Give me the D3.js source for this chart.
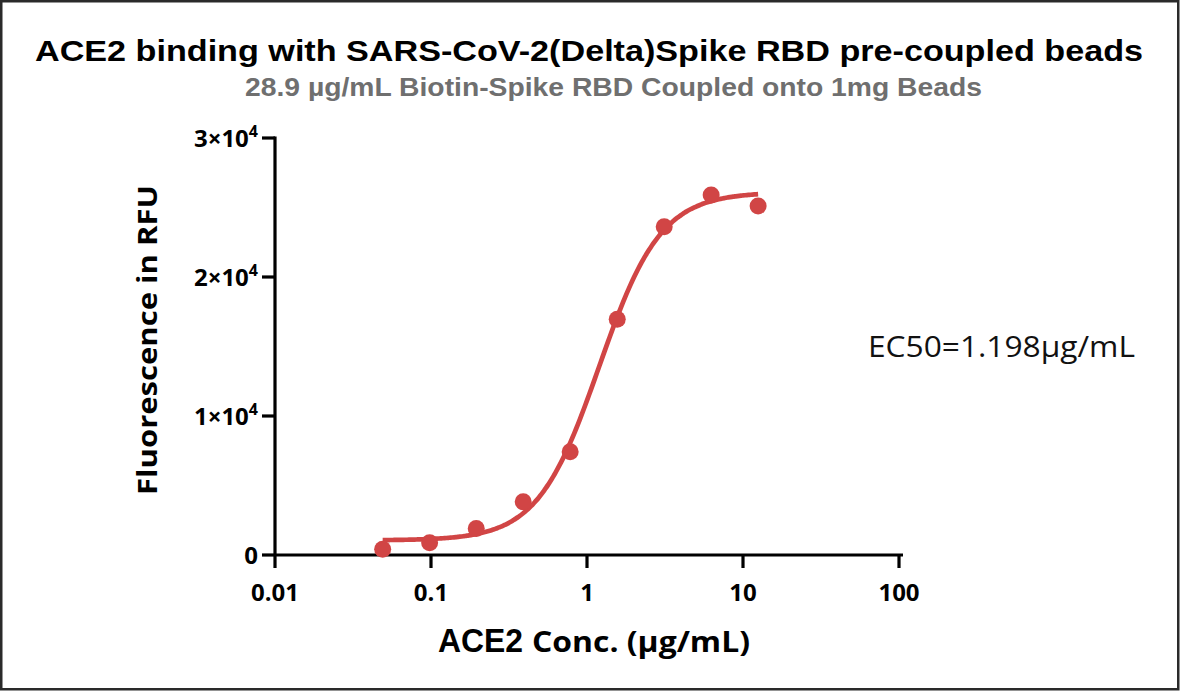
<!DOCTYPE html>
<html><head><meta charset="utf-8">
<script src="https://cdn.jsdelivr.net/npm/d3@7"></script>
<style>body{margin:0;background:#fff}svg{display:block}</style>
</head><body>
<svg id="c" width="1180" height="691"></svg>
<script>
// Data
const concentrations = [0.049, 0.098, 0.195, 0.39, 0.78, 1.5625, 3.125, 6.25, 12.5];
const fluorescence = [410, 885, 1900, 3830, 7430, 16960, 23620, 25900, 25110];
// 4PL fit parameters
const fitBottom = 1050, fitTop = 26100, fitEC50 = 1.198, fitHill = 2.2;
const xTicks = [0.01, 0.1, 1, 10, 100];
const xTickLabels = ["0.01", "0.1", "1", "10", "100"];
const yTicks = [0, 10000, 20000, 30000];
const yTickMantissa = ["0", "1", "2", "3"];

const svg = d3.select("#c");
svg.append("rect").attr("x",1.25).attr("y",1.25).attr("width",1177).attr("height",688)
  .attr("fill","#fff").attr("stroke","#2a2a2a").attr("stroke-width",2.5);

const x = d3.scaleLog().domain([0.01,100]).range([275,899]);
const y = d3.scaleLinear().domain([0,30000]).range([555,138]);
const red = "#d14545";
const tickFont = "'Open Sans', sans-serif";

// Title
svg.append("text").attr("x",589).attr("y",61).attr("text-anchor","middle")
  .attr("font-family","'Liberation Sans', Arial, sans-serif").attr("font-weight","bold")
  .attr("font-size",30).attr("textLength",1108).attr("lengthAdjust","spacingAndGlyphs")
  .attr("fill","#000").text("ACE2 binding with SARS-CoV-2(Delta)Spike RBD pre-coupled beads");
svg.append("text").attr("x",613.5).attr("y",96).attr("text-anchor","middle")
  .attr("font-family","'Liberation Sans', Arial, sans-serif").attr("font-weight","bold")
  .attr("font-size",26).attr("textLength",737).attr("lengthAdjust","spacingAndGlyphs")
  .attr("fill","#6f6f6f").text("28.9 µg/mL Biotin-Spike RBD Coupled onto 1mg Beads");

// Axes
const ax = svg.append("g").attr("stroke","#000").attr("stroke-width",3.2);
ax.append("line").attr("x1",x(0.01)).attr("x2",903).attr("y1",y(0)).attr("y2",y(0));
ax.append("line").attr("x1",x(0.01)).attr("x2",x(0.01)).attr("y1",y(30000)-1.6).attr("y2",y(0));
xTicks.forEach(t=>{
  ax.append("line").attr("x1",x(t)).attr("x2",x(t)).attr("y1",y(0)).attr("y2",y(0)+13);
});
yTicks.forEach(t=>{
  ax.append("line").attr("x1",x(0.01)-13).attr("x2",x(0.01)).attr("y1",y(t)).attr("y2",y(t));
});
xTicks.forEach((t,i)=>{
  svg.append("text").attr("x",x(t)).attr("y",601).attr("text-anchor","middle")
    .attr("font-family",tickFont).attr("font-weight","bold").attr("font-size",24)
    .text(xTickLabels[i]);
});
yTicks.forEach((t,i)=>{
  const tx = svg.append("text").attr("x",258).attr("y",y(t)+8.5).attr("text-anchor","end")
    .attr("font-family",tickFont).attr("font-weight","bold").attr("font-size",24);
  if (t===0) { tx.text("0"); }
  else {
    tx.append("tspan").text(yTickMantissa[i]+"×10");
    tx.append("tspan").attr("dy",-10).attr("font-size",16).text("4");
  }
});

// Axis titles
svg.append("text").attr("transform","translate(157,340) rotate(-90)").attr("text-anchor","middle")
  .attr("font-family","'Open Sans', sans-serif").attr("font-weight","bold").attr("font-size",26)
  .attr("textLength",310).attr("lengthAdjust","spacingAndGlyphs")
  .text("Fluorescence in RFU");
svg.append("text").attr("x",438).attr("y",652)
  .attr("font-family","'Liberation Sans', Arial, sans-serif").attr("font-weight","bold").attr("font-size",33)
  .attr("textLength",85).attr("lengthAdjust","spacingAndGlyphs").text("ACE2");
svg.append("text").attr("x",532).attr("y",652)
  .attr("font-family",tickFont).attr("font-weight","bold").attr("font-size",28)
  .attr("textLength",218).attr("lengthAdjust","spacingAndGlyphs").text("Conc. (µg/mL)");

// EC50
svg.append("text").attr("x",868).attr("y",357).attr("font-family","'Open Sans', sans-serif")
  .attr("font-size",30).attr("textLength",267).attr("lengthAdjust","spacingAndGlyphs")
  .attr("fill","#111").text("EC50=1.198µg/mL");

// Fit curve
const fit = c => fitBottom + (fitTop-fitBottom)/(1+Math.pow(fitEC50/c, fitHill));
const lo = Math.log10(concentrations[0]), hi = Math.log10(concentrations[concentrations.length-1]);
const xs = d3.range(0,201).map(i=>Math.pow(10, lo + i/200*(hi-lo)));
svg.append("path").datum(xs).attr("fill","none").attr("stroke",red).attr("stroke-width",4.7)
  .attr("d", d3.line().x(c=>x(c)).y(c=>y(fit(c))).curve(d3.curveMonotoneX));

// Points
svg.selectAll("circle.p").data(concentrations).enter().append("circle")
  .attr("cx",c=>x(c)).attr("cy",(c,i)=>y(fluorescence[i])).attr("r",8.5).attr("fill",red);
</script>
</body></html>
